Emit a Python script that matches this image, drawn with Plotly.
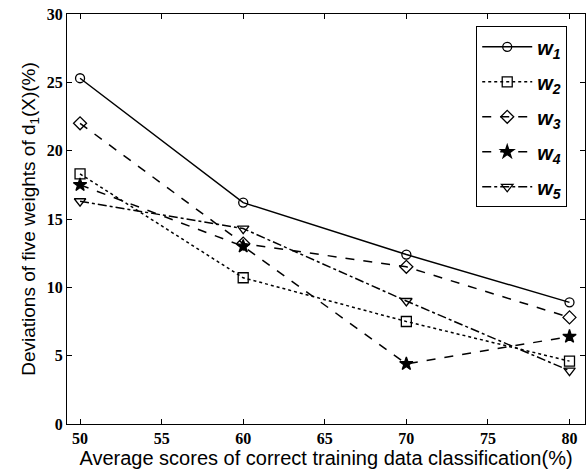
import plotly.graph_objects as go

x_vals = [50, 60, 70, 80]
w1 = [25.3, 16.2, 12.4, 8.9]
w2 = [18.3, 10.7, 7.5, 4.6]
w3 = [22.0, 13.2, 11.5, 7.8]
w4 = [17.5, 13.0, 4.4, 6.4]
w5 = [16.3, 14.3, 9.0, 3.9]
names = ["<b><i>w</i></b><sub><b><i>1</i></b></sub>", "<b><i>w</i></b><sub><b><i>2</i></b></sub>",
         "<b><i>w</i></b><sub><b><i>3</i></b></sub>", "<b><i>w</i></b><sub><b><i>4</i></b></sub>",
         "<b><i>w</i></b><sub><b><i>5</i></b></sub>"]
x_ticks = [50, 55, 60, 65, 70, 75, 80]
y_ticks = [0, 5, 10, 15, 20, 25, 30]

series = [w1, w2, w3, w4, w5]
dashes = ["solid", "dot", "dash", "dash", "dashdot"]
symbols = ["circle-open", "square-open", "diamond-open", "star", "triangle-down-open"]
sizes = [9, 10, 10, 10, 10]

fig = go.Figure()
for i, (ys, nm, d, s, sz) in enumerate(zip(series, names, dashes, symbols, sizes)):
    fig.add_trace(go.Scatter(
        x=x_vals, y=ys, name=nm, mode="lines+markers", legendgroup=f"g{i}",
        line=dict(color="black", width=1.5, dash=d),
        marker=dict(symbol=s, size=sz, color="black", line=dict(color="black", width=1.3)),
    ))

axis_common = dict(
    showline=True, linecolor="black", linewidth=1, mirror="ticks",
    ticks="inside", ticklen=5, tickcolor="black", showgrid=False, zeroline=False,
    tickfont=dict(family="Liberation Serif", size=16, color="black"),
)
fig.update_xaxes(range=[49.2, 80.95], tickvals=x_ticks, ticktext=[f"<b>{v}</b>" for v in x_ticks],
                 title=dict(text="Average scores of correct training data classification(%)",
                            font=dict(family="Liberation Sans", size=20, color="black"), standoff=4),
                 **axis_common)
fig.update_yaxes(range=[0, 30], tickvals=y_ticks, ticktext=[f"<b>{v}</b>" for v in y_ticks],
                 title=dict(text="Deviations of five weights of d<sub>1</sub>(X)(%)",
                            font=dict(family="Liberation Sans", size=19, color="black"), standoff=6),
                 **axis_common)

fig.update_layout(
    width=586, height=474,
    margin=dict(l=67, r=1, t=14, b=50),
    paper_bgcolor="white", plot_bgcolor="white",
    legend=dict(x=0.79, y=0.97, xanchor="left", yanchor="top",
                bgcolor="white", bordercolor="black", borderwidth=1,
                font=dict(family="Liberation Sans", size=20, color="black"),
                itemwidth=50, tracegroupgap=6),
    showlegend=True,
)

fig.write_html("out.html")
